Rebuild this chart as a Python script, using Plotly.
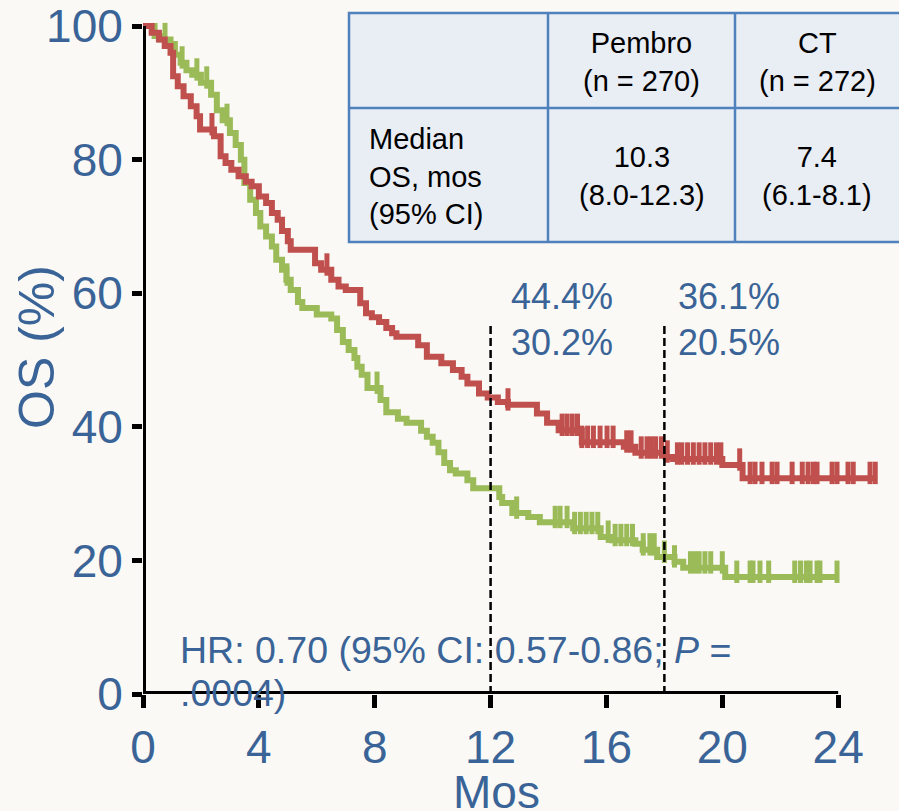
import numpy as np
import plotly.graph_objects as go

# ---------------- data ----------------
pembro_t = [0, 0.3, 0.55, 0.75, 0.95, 1.04, 1.2, 1.4, 1.65, 1.85, 1.97, 2.45, 2.68, 2.85, 3.05,
            3.3, 3.55, 3.75, 4.0, 4.25, 4.45, 4.65, 4.8, 5.0, 5.1, 5.94, 6.15, 6.5, 6.75, 7.0,
            7.5, 7.7, 7.9, 8.15, 8.4, 8.6, 8.75, 9.5, 9.8, 10.3, 10.7, 11.0, 11.2, 11.6, 11.9,
            12.25, 12.6, 13.6, 13.95, 14.35, 15.15, 16.6, 17.0, 18.05, 18.3, 20.0, 20.7]
pembro_s = [100, 99, 98, 97, 96, 92.5, 91, 89.5, 88, 86.5, 84.5, 83.5, 80.5, 79.5, 78.5,
            77.5, 76.7, 76, 74.5, 73.5, 72, 71, 69.3, 67.8, 66.5, 64.5, 63.5, 62, 61, 60.5,
            58.5, 57, 56.4, 55.7, 54.8, 54, 53.5, 52.2, 50.5, 49.5, 48.5, 47.5, 46.5, 45, 44.4,
            43.7, 43.3, 42, 40.6, 39.5, 37.7, 37.0, 36.1, 35.5, 35.2, 34.3, 32.3]
pembro_end = 25.3
pembro_censor = [2.38, 6.35, 12.6, 14.47, 14.64, 14.82, 15.0, 15.15, 15.35, 15.55, 15.78, 16.02,
                 16.23, 16.7, 16.85, 17.2, 17.4, 17.55, 17.7, 17.9, 18.1, 18.45, 18.6, 18.8, 19.0,
                 19.2, 19.4, 19.6, 19.8, 19.95, 20.6, 20.96, 21.13, 21.37, 21.72, 21.89, 22.41,
                 22.76, 22.96, 23.14, 23.27, 23.79, 23.96, 24.34, 24.52, 25.1, 25.28]

ct_t = [0, 0.4, 0.6, 0.95, 1.1, 1.3, 1.5, 1.7, 2.0, 2.35, 2.55, 2.75, 3.0, 3.2, 3.38,
        3.5, 3.7, 3.9, 4.05, 4.25, 4.45, 4.6, 4.8, 4.95, 5.1, 5.35, 5.5, 6.0, 6.5, 6.7,
        6.9, 7.1, 7.3, 7.4, 7.55, 7.75, 8.2, 8.4, 8.8, 9.1, 9.6, 9.8, 10.0, 10.2, 10.4,
        10.6, 10.8, 11.2, 11.4, 12.3, 12.4, 12.75, 13.3, 13.7, 14.85, 15.8, 16.2, 17.0, 17.25,
        17.75, 18.35, 18.65, 20.1]
ct_s = [100, 98.5, 98, 97.3, 95.7, 94.5, 93.4, 92.7, 91.5, 89.7, 87.4, 85.9, 84, 82.2, 80,
        76.5, 74, 72, 70, 68.5, 67, 65, 63.5, 62, 60.5, 58.7, 57.8, 56.8, 56.2, 54.5,
        52.7, 51.5, 50.3, 49, 47.8, 45.8, 44, 42.2, 41.2, 40.6, 39.4, 38.5, 37.6, 36.2, 34.6,
        33.5, 33, 32, 30.8, 29.5, 28.6, 27.1, 26.5, 25.7, 24.8, 23.5, 23.0, 22.5, 21.6,
        20.5, 19.8, 18.9, 17.5]
ct_end = 24.0
ct_censor = [0.76, 1.35, 1.86, 2.2, 2.9, 4.97, 8.08, 12.9, 14.23, 14.4, 14.64, 14.9, 15.1, 15.3,
             15.5, 15.7, 16.06, 16.3, 16.5, 16.7, 16.9, 17.27, 17.5, 17.65, 18.0, 18.35, 18.9,
             19.05, 19.2, 19.4, 19.6, 20.0, 20.5, 20.96, 21.06, 21.3, 21.6, 22.5, 22.7, 22.9,
             23.03, 23.27, 23.37, 23.96]

x_ticks = [0, 4, 8, 12, 16, 20, 24]
y_ticks = [0, 20, 40, 60, 80, 100]

landmark_months = [12, 18]
landmark_pembro = ["44.4%", "36.1%"]
landmark_ct = ["30.2%", "20.5%"]
landmark_top = 55.2

table_header = ["", "Pembro<br>(n = 270)", "CT<br>(n = 272)"]
table_row = ["Median<br>OS, mos<br>(95% CI)", "10.3<br>(8.0-12.3)", "7.4<br>(6.1-8.1)"]

hr_line1 = "HR: 0.70 (95% CI: 0.57-0.86; <i>P</i> ="
hr_line2 = ".0004)"

# ---------------- style ----------------
FONT = "Liberation Sans, Arial, sans-serif"
BLUE = "#3A6497"
RED = "#C0504D"
GREEN = "#9BBB59"
BG = "#FAF9F5"
TBL_FILL = "#E9EDF4"
TBL_LINE = "#4F81BD"

W, H = 899, 811
ML, MR, MT, MB = 143, 0, 0, 117
PW, PH = W - ML - MR, H - MT - MB
X_RANGE = [0, 26.1]
Y_RANGE = [0, 103.9]
CENSOR_LIFT = 0.8


def pxx(p):
    return (p - ML) / PW


def pxy(p):
    return (MT + PH - p) / PH


def step_value(times, surv, t):
    i = int(np.searchsorted(np.array(times), t, side="right")) - 1
    return surv[max(i, 0)]


fig = go.Figure()

for times, surv, end, cens, color, name in [
    (ct_t, ct_s, ct_end, ct_censor, GREEN, "CT"),
    (pembro_t, pembro_s, pembro_end, pembro_censor, RED, "Pembro"),
]:
    fig.add_trace(go.Scatter(
        x=list(times) + [end], y=list(surv) + [surv[-1]], mode="lines",
        line=dict(color=color, width=6, shape="hv"), name=name, showlegend=False,
        hoverinfo="skip"))
    fig.add_trace(go.Scatter(
        x=cens, y=[step_value(times, surv, c) + CENSOR_LIFT for c in cens], mode="markers",
        marker=dict(symbol="line-ns", size=16, color=color, line=dict(width=5, color=color)),
        showlegend=False, hoverinfo="skip", cliponaxis=False))

shapes = []
# axis lines
shapes.append(dict(type="line", xref="x", yref="y", x0=0, x1=0, y0=0, y1=y_ticks[-1],
                   line=dict(color="black", width=6), layer="above"))
shapes.append(dict(type="line", xref="x", yref="y", x0=0, x1=x_ticks[-1], y0=0, y1=0,
                   line=dict(color="black", width=6), layer="above"))
# landmark dashed lines
for m in landmark_months:
    shapes.append(dict(type="line", xref="x", yref="y", x0=m, x1=m, y0=0, y1=landmark_top,
                       line=dict(color="black", width=2.5, dash="8px,4px"), layer="above"))

# table
T_L, T_R, T_T, T_M, T_B = 349, 905, 13, 108, 242
C1, C2 = 548, 735
shapes.append(dict(type="rect", xref="paper", yref="paper", x0=pxx(T_L), x1=pxx(T_R),
                   y0=pxy(T_B), y1=pxy(T_T), fillcolor=TBL_FILL,
                   line=dict(color=TBL_LINE, width=2.5), layer="above"))
shapes.append(dict(type="line", xref="paper", yref="paper", x0=pxx(T_L), x1=pxx(T_R),
                   y0=pxy(T_M), y1=pxy(T_M), line=dict(color=TBL_LINE, width=2.5), layer="above"))
for c in (C1, C2):
    shapes.append(dict(type="line", xref="paper", yref="paper", x0=pxx(c), x1=pxx(c),
                       y0=pxy(T_B), y1=pxy(T_T), line=dict(color=TBL_LINE, width=2.5),
                       layer="above"))

annotations = []
col_centers = [None, (C1 + C2) / 2, (C2 + T_R) / 2 - 3]
for i, txt in enumerate(table_header):
    if txt:
        annotations.append(dict(text=txt, xref="paper", yref="paper", x=pxx(col_centers[i]),
                                y=pxy((T_T + T_M) / 2 + 2), xanchor="center", yanchor="middle",
                                showarrow=False, align="center",
                                font=dict(family=FONT, size=29, color="black")))
for i, txt in enumerate(table_row):
    if i == 0:
        annotations.append(dict(text=txt, xref="paper", yref="paper", x=pxx(367),
                                y=pxy((T_M + T_B) / 2 + 1), xanchor="left", yanchor="middle",
                                showarrow=False, align="left",
                                font=dict(family=FONT, size=29, color="black")))
    else:
        annotations.append(dict(text=txt, xref="paper", yref="paper", x=pxx(col_centers[i]),
                                y=pxy((T_M + T_B) / 2 + 1), xanchor="center", yanchor="middle",
                                showarrow=False, align="center",
                                font=dict(family=FONT, size=29, color="black")))

# landmark labels
for m, a, b, sh in zip(landmark_months, landmark_pembro, landmark_ct, [18, 12]):
    annotations.append(dict(text=a, xref="x", yref="paper", x=m, xshift=sh, y=pxy(297),
                            xanchor="left", yanchor="middle", showarrow=False,
                            font=dict(family=FONT, size=36, color=BLUE)))
    annotations.append(dict(text=b, xref="x", yref="paper", x=m, xshift=sh, y=pxy(342),
                            xanchor="left", yanchor="middle", showarrow=False,
                            font=dict(family=FONT, size=36, color=BLUE)))

# HR text
annotations.append(dict(text=hr_line1, xref="paper", yref="paper", x=pxx(178), y=pxy(650),
                        xanchor="left", yanchor="middle", showarrow=False,
                        font=dict(family=FONT, size=37.5, color=BLUE)))
annotations.append(dict(text=hr_line2, xref="paper", yref="paper", x=pxx(178), y=pxy(693),
                        xanchor="left", yanchor="middle", showarrow=False,
                        font=dict(family=FONT, size=37.5, color=BLUE)))

# axis titles
annotations.append(dict(text="OS (%)", xref="paper", yref="paper", x=pxx(37), y=pxy(347),
                        xanchor="center", yanchor="middle", textangle=-90, showarrow=False,
                        font=dict(family=FONT, size=50, color=BLUE)))
annotations.append(dict(text="Mos", xref="paper", yref="paper", x=pxx(496), y=pxy(792),
                        xanchor="center", yanchor="middle", showarrow=False,
                        font=dict(family=FONT, size=46, color=BLUE)))

fig.update_layout(
    width=W, height=H, margin=dict(l=ML, r=MR, t=MT, b=MB, pad=0),
    paper_bgcolor=BG, plot_bgcolor=BG, showlegend=False,
    shapes=shapes, annotations=annotations,
    font=dict(family=FONT, color=BLUE),
    xaxis=dict(range=X_RANGE, tickvals=x_ticks, ticktext=[str(v) for v in x_ticks],
               ticks="outside", ticklen=13, tickwidth=5, tickcolor="black",
               showline=False, showgrid=False, zeroline=False,
               tickfont=dict(family=FONT, size=46, color=BLUE)),
    yaxis=dict(range=Y_RANGE, tickvals=y_ticks, ticktext=[str(v) for v in y_ticks],
               ticks="outside", ticklen=10, tickwidth=5, tickcolor="black",
               showline=False, showgrid=False, zeroline=False,
               tickfont=dict(family=FONT, size=46, color=BLUE)),
)

fig.write_html("out.html", config={"displayModeBar": False})
